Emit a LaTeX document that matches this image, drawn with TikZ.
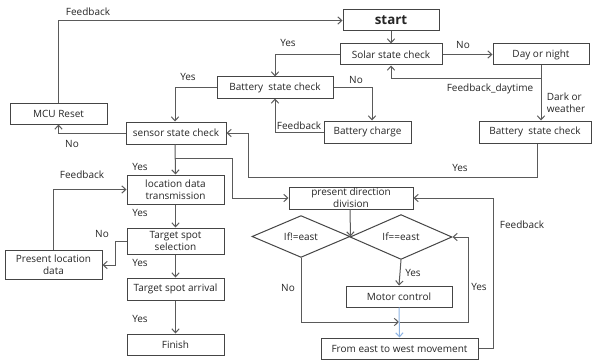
\documentclass[tikz,border=0pt]{standalone}
\usepackage{fontspec}
\setmainfont{Open Sans}
\usetikzlibrary{arrows.meta,shapes.geometric,calc}
\definecolor{lngray}{HTML}{5A5A5A}
\definecolor{bxgray}{HTML}{454545}
\definecolor{lnblue}{HTML}{8EB4E3}
\begin{document}
\begin{tikzpicture}[x=0.75pt,y=-0.75pt,
  txt/.style={font=\fontsize{7.5}{8.8}\selectfont, text=black!85},
  box/.style={draw=bxgray, line width=0.75pt, inner sep=0pt, align=center, txt},
  dia/.style={draw=bxgray, line width=0.75pt, diamond, inner sep=0pt, txt},
  lbl/.style={txt, inner sep=0pt},
  conn/.style={draw=lngray, line width=0.75pt, -{Straight Barb[length=3pt,width=5.5pt]}},
  plain/.style={draw=lngray, line width=0.75pt}]
\useasboundingbox (0,0) rectangle (592,360);
\fill[white] (0,0) rectangle (592,360);

% nodes
\node[box, minimum width=72pt, minimum height=15.75pt, font=\fontsize{10}{12}\selectfont\bfseries] (start) at (391,20.5) {start};
\node[box, minimum width=76.5pt, minimum height=15.75pt] (solar) at (391,54.5) {Solar state check};
\node[box, minimum width=72pt, minimum height=15.75pt] (day) at (541,54.5) {Day or night};
\node[box, minimum width=87pt, minimum height=15.75pt] (batt1) at (275,87.5) {Battery\ \ state check};
\node[box, minimum width=65.25pt, minimum height=16.5pt] (charge) at (367.5,132) {Battery charge};
\node[box, minimum width=84pt, minimum height=16.5pt] (batt2) at (535,132) {Battery\ \ state check};
\node[box, minimum width=72.75pt, minimum height=15.75pt] (mcu) at (58.5,113.5) {MCU Reset};
\node[box, minimum width=75pt, minimum height=16.5pt] (sensor) at (176,133) {sensor state check};
\node[box, minimum width=72.75pt, minimum height=21.75pt] (loc) at (175.5,189.5) {location data\\transmission};
\node[box, minimum width=72.75pt, minimum height=19.5pt] (sel) at (175.5,241) {Target spot\\selection};
\node[box, minimum width=72.75pt, minimum height=16.5pt] (arr) at (175.5,289) {Target spot arrival};
\node[box, minimum width=72.75pt, minimum height=15.75pt] (fin) at (175.5,344.5) {Finish};
\node[box, minimum width=72.75pt, minimum height=21.75pt] (pres) at (53.5,264.5) {Present location\\data};
\node[box, minimum width=93pt, minimum height=16.5pt] (pdd) at (351,198) {present direction\\division};
\node[dia, minimum width=73.5pt, minimum height=24.75pt] (d1) at (301,236.5) {If!=east};
\node[dia, minimum width=76.5pt, minimum height=24.75pt] (d2) at (401,237) {If==east};
\node[box, minimum width=79.5pt, minimum height=15.75pt] (motor) at (399,296.5) {Motor control};
\node[box, minimum width=117.75pt, minimum height=15.75pt] (east) at (399.5,348.5) {From east to west movement};

% helper coordinates
\coordinate (fb) at (541,79);
\coordinate (br) at (175,158);
\coordinate (mrg) at (399,322);
\coordinate (yr) at (468,237);

% connectors
\draw[conn] (mcu.north) |- (start.west);
\draw[conn] (start.south) -- (solar.north);
\draw[conn] (solar.east) -- (day.west);
\draw[conn] (solar.west) -| (batt1.north);
\draw[conn] ($(day.south)$) -- (day.south |- batt2.north);
\draw[conn] (fb) -| (solar.south);
\draw[conn] (batt1.east) -| ($(charge.north)+(4.5,0)$);
\draw[conn] (charge.west) -| (batt1.south);
\draw[conn] (batt1.west) -| ($(sensor.north)+(-1,0)$);
\draw[conn] (sensor.west) -| (mcu.south);
\draw[conn] ($(batt2.south)+(2,0)$) |- (248,177) |- (sensor.east);
\draw[conn] ($(sensor.south)+(-1,0)$) -- (loc.north);
\draw[conn] (br) -| (232,198) -- (pdd.west);
\draw[conn] (loc.south) -- (sel.north);
\draw[conn] (sel.west) -| (115,265) -- ($(pres.east)+(0,0.5)$);
\draw[conn] (pres.north) |- (loc.west);
\draw[conn] (sel.south) -- (arr.north);
\draw[conn] (arr.south) -- (fin.north);
\draw[conn] ($(pdd.south)+(-1,0)$) -- (d1.east);
\draw[conn] (d2.south) -- (motor.north);
\draw[conn] (d1.south) |- (mrg);
\draw[conn] (mrg) -| (yr) -- (d2.east);
\draw[conn, draw=lnblue] (motor.south) -- (east.north);
\draw[conn] (east.east) -| (493,198) -- (pdd.east);

% labels
\node[lbl] at (88,12) {Feedback};
\node[lbl] at (288,42.5) {Yes};
\node[lbl] at (463,45) {No};
\node[lbl] at (188,76.5) {Yes};
\node[lbl] at (356,80) {No};
\node[lbl] at (490,89) {Feedback\_daytime};
\node[lbl, align=left] at (566,102.5) {Dark or\\weather};
\node[lbl] at (299,126) {Feedback};
\node[lbl] at (72,144) {No};
\node[lbl] at (460,167.5) {Yes};
\node[lbl] at (140,166.5) {Yes};
\node[lbl] at (82,175) {Feedback};
\node[lbl] at (140,213) {Yes};
\node[lbl] at (102,234) {No};
\node[lbl] at (140,263) {Yes};
\node[lbl] at (140,319) {Yes};
\node[lbl] at (522,225) {Feedback};
\node[lbl] at (413,272.5) {Yes};
\node[lbl] at (288,288) {No};
\node[lbl] at (479,286.5) {Yes};
\end{tikzpicture}
\end{document}
